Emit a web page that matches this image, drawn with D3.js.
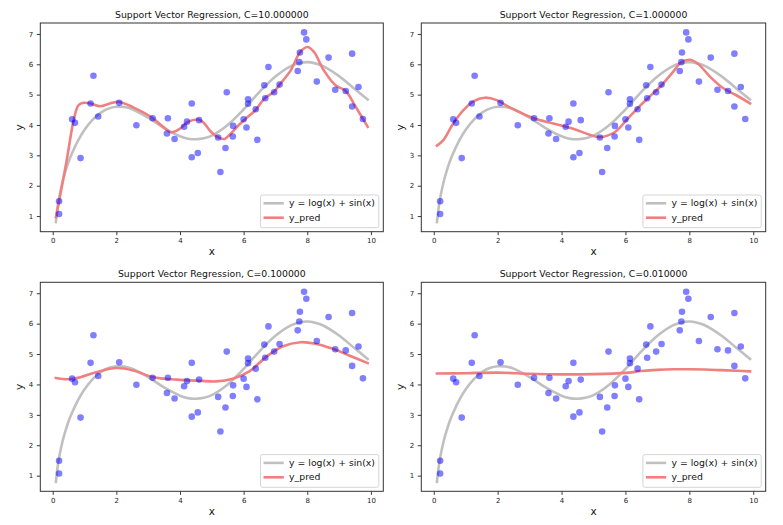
<!DOCTYPE html>
<html>
<head>
<meta charset="utf-8">
<script src="https://cdn.jsdelivr.net/npm/d3@7"></script>
<style>
  body { margin: 0; background: #fff; }
  svg { display: block; font-family: "DejaVu Sans", sans-serif; }
</style>
</head>
<body>
<svg id="chart" width="783" height="525"></svg>
<script>
// ---- data ----
const pointsX = [0.20,0.20,0.61,0.70,0.875,1.19,1.28,1.43,2.09,2.63,3.14,3.59,3.62,3.83,4.13,4.22,4.37,4.37,4.56,4.60,5.20,5.27,5.43,5.47,5.66,5.67,6.00,6.09,6.14,6.14,6.38,6.43,6.65,6.68,6.78,6.96,7.13,7.70,7.75,7.77,7.90,7.97,8.30,8.67,8.88,9.21,9.41,9.41,9.61,9.75];
const pointsY = [1.49,1.07,4.19,4.07,2.91,4.71,5.62,4.28,4.73,3.99,4.22,3.72,4.22,3.54,3.94,4.11,4.71,2.94,3.08,4.16,3.59,2.45,3.24,5.08,3.62,3.97,4.19,3.92,4.85,4.70,4.52,3.51,5.31,4.88,5.91,5.08,5.33,5.78,6.07,6.39,7.05,6.82,5.43,6.22,5.16,5.12,6.35,4.61,5.25,4.20];

// true curve
const curveX = [0.1,0.15,0.2,0.3,0.4,0.5,0.6,0.8,1.0,1.25,1.5,1.75,2.0,2.25,2.5,3.0,3.5,4.0,4.25,4.5,4.75,5.0,5.5,6.0,6.5,7.0,7.5,7.75,8.0,8.25,8.5,9.0,9.5,9.9];
const curveY = [0.80,1.25,1.59,2.09,2.47,2.79,3.05,3.49,3.84,4.17,4.40,4.54,4.60,4.59,4.52,4.24,3.90,3.63,3.55,3.53,3.56,3.65,4.00,4.51,5.09,5.60,5.95,6.04,6.07,6.03,5.94,5.61,5.18,4.84];

// predictions per C
const predX10 = [0.1,0.2,0.45,0.66,0.81,0.97,1.19,1.49,1.8,2.09,2.53,3.14,3.47,3.73,3.99,4.25,4.56,4.72,4.98,5.2,5.4,5.6,5.81,6.07,6.39,6.65,6.96,7.13,7.48,7.77,8.0,8.21,8.52,8.89,9.21,9.46,9.75,9.9];
const predY10 = [0.96,1.49,2.9,4.16,4.65,4.73,4.71,4.62,4.71,4.76,4.58,4.23,3.94,3.76,3.87,4.10,4.18,4.10,3.77,3.59,3.54,3.72,3.96,4.21,4.51,4.87,5.10,5.33,5.80,6.39,6.57,6.41,5.80,5.31,5.12,4.71,4.20,3.94];
const predX1 = [0.1,0.3,0.61,0.93,1.24,1.6,1.97,2.38,3.13,3.74,4.36,4.88,5.2,5.67,6.03,6.39,6.71,7.13,7.49,7.75,8.01,8.27,8.63,9.05,9.47,9.9];
const predY1 = [3.32,3.50,4.05,4.49,4.78,4.90,4.82,4.58,4.22,4.05,3.88,3.68,3.60,3.77,4.16,4.56,4.89,5.31,5.75,6.07,6.15,6.02,5.61,5.22,4.98,4.71];
const predX01 = [0.1,0.45,0.87,1.39,2.01,2.53,3.16,3.89,4.62,5.14,5.66,6.18,6.70,7.22,7.79,8.26,8.78,9.30,9.9];
const predY01 = [4.21,4.17,4.24,4.41,4.54,4.46,4.24,4.16,4.12,4.10,4.19,4.43,4.90,5.25,5.39,5.34,5.18,4.96,4.70];
const predX001 = [0.1,1,2,3,4,5,6,6.5,7,7.5,8,8.5,9,9.5,9.9];
const predY001 = [4.36,4.37,4.39,4.35,4.33,4.34,4.38,4.44,4.48,4.50,4.50,4.49,4.47,4.45,4.43];

const titles = ["Support Vector Regression, C=10.000000","Support Vector Regression, C=1.000000","Support Vector Regression, C=0.100000","Support Vector Regression, C=0.010000"];
const predXs = [predX10, predX1, predX01, predX001];
const predYs = [predY10, predY1, predY01, predY001];
const xTicks = [0,2,4,6,8,10];
const yTicks = [1,2,3,4,5,6,7];
const legendLabels = ["y = log(x) + sin(x)", "y_pred"];

// ---- layout ----
const svg = d3.select("#chart");
svg.append("rect").attr("width",783).attr("height",525).attr("fill","#fff");

const panels = [
  {l:40.3, r:383.3, t:23, b:231.7},
  {l:421.3, r:765.7, t:23, b:231.7},
  {l:40.3, r:383.3, t:282.3, b:491.3},
  {l:421.3, r:765.7, t:282.3, b:491.3}
];

const grayColor = "#c0c0c0";
const redColor = "#f08080";

panels.forEach((p, i) => {
  const x = d3.scaleLinear().domain([-0.39, 10.39]).range([p.l, p.r]);
  const y = d3.scaleLinear().domain([0.485, 7.36]).range([p.b, p.t]);
  const g = svg.append("g");

  // clip
  const clipId = "clip" + i;
  svg.append("clipPath").attr("id", clipId).append("rect")
    .attr("x", p.l).attr("y", p.t).attr("width", p.r - p.l).attr("height", p.b - p.t);
  const plot = g.append("g").attr("clip-path", `url(#${clipId})`);

  const line = d3.line().x(d => x(d[0])).y(d => y(d[1])).curve(d3.curveCatmullRom.alpha(0.5));

  plot.append("path").datum(d3.zip(curveX, curveY))
    .attr("d", line).attr("fill","none").attr("stroke", grayColor).attr("stroke-width", 2.6)
    .attr("stroke-linecap","square");
  plot.append("path").datum(d3.zip(predXs[i], predYs[i]))
    .attr("d", line).attr("fill","none").attr("stroke", redColor).attr("stroke-width", 2.6)
    .attr("stroke-linecap","square");

  plot.selectAll("circle").data(d3.zip(pointsX, pointsY)).join("circle")
    .attr("cx", d => x(d[0])).attr("cy", d => y(d[1])).attr("r", 3.3)
    .attr("fill", "#0000ff").attr("fill-opacity", 0.5);

  // axes
  const xa = g.append("g").attr("transform", `translate(0,${p.b})`)
    .call(d3.axisBottom(x).tickValues(xTicks).tickFormat(d3.format("d")).tickSize(3.5).tickPadding(3.3));
  const ya = g.append("g").attr("transform", `translate(${p.l},0)`)
    .call(d3.axisLeft(y).tickValues(yTicks).tickFormat(d3.format("d")).tickSize(3.5).tickPadding(3.5));
  [xa, ya].forEach(a => {
    a.select(".domain").remove();
    a.selectAll("line").attr("stroke", "#222").attr("stroke-width", 0.9);
    a.selectAll("text").attr("font-size", 7).attr("fill", "#222").attr("font-family", "DejaVu Sans");
  });

  // frame
  g.append("rect").attr("x", p.l).attr("y", p.t).attr("width", p.r - p.l).attr("height", p.b - p.t)
    .attr("fill", "none").attr("stroke", "#333").attr("stroke-width", 1);

  // title
  const cx = (p.l + p.r) / 2;
  g.append("text").attr("x", cx).attr("y", p.t - 4.9).attr("text-anchor","middle")
    .attr("font-size", 9.3).attr("fill","#111").text(titles[i]);

  // axis labels
  g.append("text").attr("x", cx).attr("y", p.b + 23.5).attr("text-anchor","middle")
    .attr("font-size", 10.5).attr("fill","#111").text("x");
  g.append("text").attr("transform", `translate(${p.l - 17.2},${(p.t + p.b) / 2}) rotate(-90)`)
    .attr("text-anchor","middle").attr("font-size", 10.5).attr("fill","#111").text("y");

  // legend
  const lw = 118.3, lh = 32.7;
  const lx = p.r - 4.5 - lw, ly = p.b - 4 - lh;
  const lg = g.append("g");
  lg.append("rect").attr("x", lx).attr("y", ly).attr("width", lw).attr("height", lh)
    .attr("rx", 2).attr("fill", "#fff").attr("fill-opacity", 0.8)
    .attr("stroke", "#d0d0d0").attr("stroke-width", 0.9);
  const legColors = [grayColor, redColor];
  legendLabels.forEach((lab, k) => {
    const yy = ly + 8.3 + k * 14.4;
    lg.append("line").attr("x1", lx + 3).attr("x2", lx + 23.3).attr("y1", yy).attr("y2", yy)
      .attr("stroke", legColors[k]).attr("stroke-width", 2.6);
    lg.append("text").attr("x", lx + 28.6).attr("y", yy).attr("dy", "0.33em")
      .attr("font-size", 9.3).attr("fill", "#111").text(lab);
  });
});
</script>
</body>
</html>
